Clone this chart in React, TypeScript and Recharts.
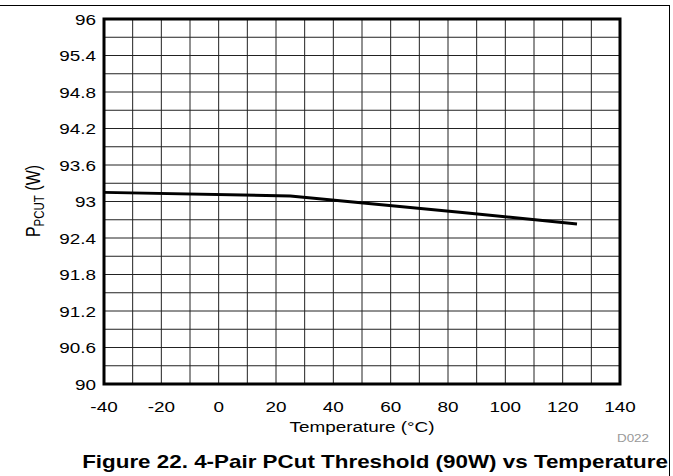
import React from 'react';
import {
  LineChart,
  Line,
  XAxis,
  YAxis,
  CartesianGrid,
  ReferenceArea,
} from 'recharts';

// temperature (°C) vs PCut threshold (W)
const temps = [-40, 25, 85, 125];
const pcut = [93.15, 93.09, 92.82, 92.63];

const xLabels = [-40, -20, 0, 20, 40, 60, 80, 100, 120, 140];
const xGrid = [-40, -30, -20, -10, 0, 10, 20, 30, 40, 50, 60, 70, 80, 90, 100, 110, 120, 130, 140];
const yLabels = [90, 90.6, 91.2, 91.8, 92.4, 93, 93.6, 94.2, 94.8, 95.4, 96];
const yGrid = [
  90, 90.3, 90.6, 90.9, 91.2, 91.5, 91.8, 92.1, 92.4, 92.7, 93, 93.3, 93.6, 93.9, 94.2, 94.5,
  94.8, 95.1, 95.4, 95.7, 96,
];

const FONT = "'Liberation Sans', Arial, sans-serif";
const STRETCH = 1.22;

const data = temps.map((t, i) => ({ t, p: pcut[i] }));

const isLabel = (list: number[], v: number) => list.some((l) => Math.abs(l - v) < 1e-6);

function XTick({ x, y, payload }: any) {
  if (!isLabel(xLabels, payload.value)) return null;
  return (
    <g transform={`translate(${x},${y})`}>
      <text transform={`scale(${STRETCH},1)`} textAnchor="middle" dy="0.71em" fontSize={15.5} fontFamily={FONT} fill="#000">
        {payload.value}
      </text>
    </g>
  );
}

function YTick({ x, y, payload }: any) {
  if (!isLabel(yLabels, payload.value)) return null;
  return (
    <g transform={`translate(${x},${y})`}>
      <text transform={`scale(${STRETCH},1)`} textAnchor="end" dy="0.355em" fontSize={15.5} fontFamily={FONT} fill="#000">
        {payload.value}
      </text>
    </g>
  );
}

export default function App() {
  return (
    <div style={{ position: 'absolute', left: 0, top: 0, width: 673, height: 476, background: '#fff' }}>
      {/* outer frame: top and right edges only */}
      <div
        style={{
          position: 'absolute',
          left: 0,
          top: 5,
          width: 670,
          height: 471,
          borderTop: '1px solid #000',
          borderRight: '1px solid #000',
          boxSizing: 'border-box',
        }}
      />
      <LineChart
        width={673}
        height={476}
        data={data}
        margin={{ top: 19, right: 53, bottom: 62, left: 44 }}
        style={{ position: 'absolute', left: 0, top: 0 }}
      >
        <CartesianGrid stroke="#222" strokeWidth={1} />
        <XAxis
          dataKey="t"
          type="number"
          domain={[-40, 140]}
          ticks={xGrid}
          interval={0}
          tick={<XTick />}
          tickLine={false}
          tickSize={0}
          tickMargin={17}
          axisLine={false}
          height={30}
        />
        <YAxis
          type="number"
          domain={[90, 96]}
          ticks={yGrid}
          interval={0}
          tick={<YTick />}
          tickLine={false}
          tickSize={0}
          tickMargin={8}
          axisLine={false}
          width={60}
        />
        <ReferenceArea x1={-40} x2={140} y1={90} y2={96} fill="none" stroke="#000" strokeWidth={3} ifOverflow="visible" />
        <Line
          dataKey="p"
          type="linear"
          stroke="#000"
          strokeWidth={3}
          dot={false}
          isAnimationActive={false}
        />
      </LineChart>
      <svg width={673} height={476} style={{ position: 'absolute', left: 0, top: 0, pointerEvents: 'none' }}>
        <text
          transform={`translate(40,201) rotate(-90) scale(1,${STRETCH})`}
          textAnchor="middle"
          fontSize={16}
          fontFamily={FONT}
          fill="#000"
        >
          <tspan>P</tspan>
          <tspan fontSize={11.5} dy={3}>PCUT</tspan>
          <tspan dy={-3}> (W)</tspan>
        </text>
        <text
          transform={`translate(362,432) scale(${STRETCH},1)`}
          textAnchor="middle"
          fontSize={15.5}
          fontFamily={FONT}
          fill="#000"
        >
          Temperature (°C)
        </text>
        <text
          transform={`translate(649,442) scale(${STRETCH},1)`}
          textAnchor="end"
          fontSize={11}
          fontFamily={FONT}
          fill="#999"
        >
          D022
        </text>
        <text
          transform="translate(375,468) scale(1.245,1)"
          textAnchor="middle"
          fontSize={18}
          fontWeight="bold"
          fontFamily={FONT}
          fill="#000"
        >
          Figure 22. 4-Pair PCut Threshold (90W) vs Temperature
        </text>
      </svg>
    </div>
  );
}
